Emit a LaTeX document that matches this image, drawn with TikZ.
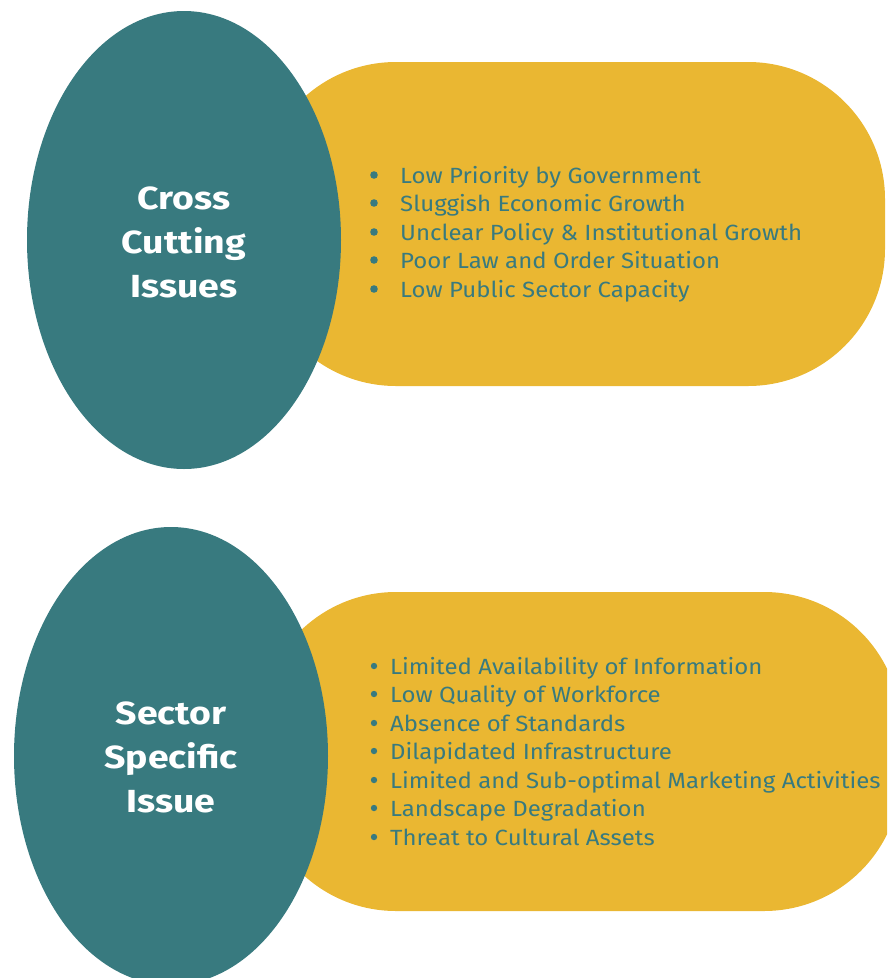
\documentclass[tikz,border=0pt]{standalone}
\usepackage{fontspec}
\setmainfont{Fira Sans}
\newfontfamily\itemfont[FakeStretch=1.09]{Fira Sans}
\newfontfamily\titlefont[FakeStretch=1.17]{Fira Sans}
\definecolor{teal1}{HTML}{387A7F}
\definecolor{gold1}{HTML}{EAB732}
\begin{document}
\begin{tikzpicture}[x=1pt,y=-1pt,
  pill/.style={fill=gold1, rounded corners=137pt},
  oval/.style={fill=teal1},
  title/.style={text=white, font=\titlefont\fontsize{32}{44}\selectfont\bfseries, align=center, inner sep=0pt},
  item/.style={text=teal1, font=\itemfont\fontsize{22}{26}\selectfont, anchor=base west, inner sep=0pt},
  dot/.style={fill=teal1}]
\useasboundingbox (0,0) rectangle (887,978);
\clip (0,0) rectangle (887,978);
% top group
\fill[pill] (259,62) rectangle (885,386);
\fill[oval] (184,240) ellipse [x radius=157, y radius=229];
\node[title] (t) at (184,242) {Cross\\Cutting\\Issues};
\foreach \y/\txt [count=\i] in {175/Low Priority by Government,203/Sluggish Economic Growth,232/Unclear Policy \& Institutional Growth,260/Poor Law and Order Situation,289/Low Public Sector Capacity}{
  \fill[dot] (374,\y) circle (3.8);
  \node[item] (a\i) at (400,\y+8) {\txt};
}
% bottom group
\fill[pill] (259,592) rectangle (901,911);
\fill[oval] (171,756) ellipse [x radius=157, y radius=229];
\node[title] (s) at (171,757) {Sector\\Specific\\Issue};
\foreach \y/\txt [count=\i] in {666/Limited Availability of Information,694/Low Quality of Workforce,723/Absence of Standards,751/Dilapidated Infrastructure,780/Limited and Sub-optimal Marketing Activities,808/Landscape Degradation,837/Threat to Cultural Assets}{
  \fill[dot] (374,\y) circle (3.2);
  \node[item] (b\i) at (390,\y+8) {\txt};
}
\end{tikzpicture}
\end{document}
